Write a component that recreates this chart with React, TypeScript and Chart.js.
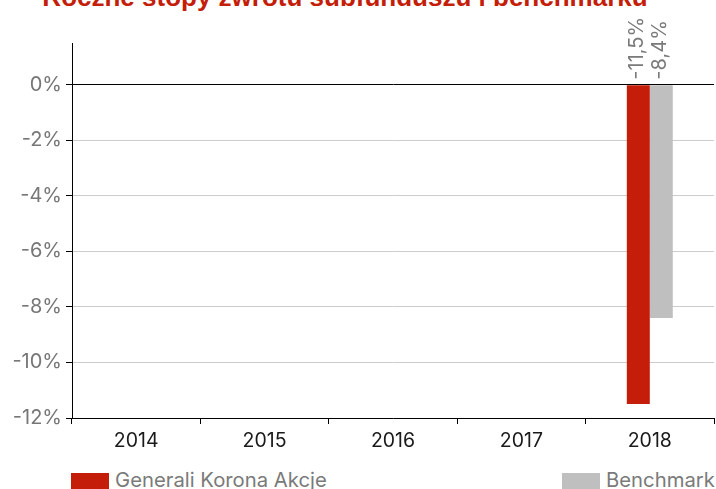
import React, { useEffect, useRef } from "react";
import { Chart, registerables } from "chart.js";

Chart.register(...registerables);

const categories = ["2014", "2015", "2016", "2017", "2018"];
const fundValues: (number | null)[] = [null, null, null, null, -11.5];
const benchmarkValues: (number | null)[] = [null, null, null, null, -8.4];
const seriesNames = ["Generali Korona Akcje", "Benchmark"];
const titleText = "Roczne stopy zwrotu subfunduszu i benchmarku";

const RED = "#c41e0a";
const GRAY = "#bfbfbf";
const FONT = "Inter, 'Liberation Sans', Arial, sans-serif";

const fmt = (v: number) => v.toFixed(1).replace(".", ",") + "%";

const labelPlugin = {
  id: "barLabels",
  afterDatasetsDraw(chart: any) {
    const ctx = chart.ctx;
    const y = chart.scales.y;
    const zeroY = y.getPixelForValue(0);
    ctx.save();
    ctx.fillStyle = "#7a7a7a";
    ctx.font = `20px ${FONT}`;
    ctx.textAlign = "left";
    ctx.textBaseline = "middle";
    chart.data.datasets.forEach((ds: any, di: number) => {
      const meta = chart.getDatasetMeta(di);
      meta.data.forEach((el: any, i: number) => {
        const v = ds.data[i];
        if (v === null || v === undefined) return;
        ctx.save();
        ctx.translate(el.x - 1, zeroY - 5);
        ctx.rotate(-Math.PI / 2);
        ctx.fillText(fmt(v), 0, 0);
        ctx.restore();
      });
    });
    ctx.restore();
  },
};

export default function App() {
  const ref = useRef<HTMLCanvasElement | null>(null);
  useEffect(() => {
    if (!ref.current) return;
    const chart = new Chart(ref.current, {
      type: "bar",
      data: {
        labels: categories,
        datasets: [
          {
            label: seriesNames[0],
            data: fundValues,
            backgroundColor: RED,
            categoryPercentage: 0.358,
            barPercentage: 1,
          },
          {
            label: seriesNames[1],
            data: benchmarkValues,
            backgroundColor: GRAY,
            categoryPercentage: 0.358,
            barPercentage: 1,
          },
        ],
      },
      options: {
        animation: false,
        responsive: false,
        maintainAspectRatio: false,
        layout: { padding: { top: 43, right: 2, left: 0, bottom: 0 } },
        plugins: {
          legend: { display: false },
          title: { display: false },
          tooltip: { enabled: false },
        },
        scales: {
          x: {
            afterFit: (s: any) => {
              s.height = 42;
            },
            grid: {
              drawOnChartArea: false,
              offset: true,
              tickLength: 6,
              tickColor: "#000",
            },
            border: { color: "#000", width: 1 },
            ticks: {
              color: "#1a1a1a",
              font: { family: FONT, size: 19.5 },
              padding: 5,
            },
          },
          y: {
            min: -12,
            max: 1.5,
            afterFit: (s: any) => {
              s.width = 72;
            },
            afterBuildTicks: (s: any) => {
              s.ticks = s.ticks.filter((t: any) => t.value <= 0 && Math.abs(t.value % 2) < 1e-9);
            },
            ticks: {
              stepSize: 2,
              color: "#777",
              font: { family: FONT, size: 20 },
              padding: 4,
              callback: (v: any) => `${v}%`,
            },
            grid: {
              color: (c: any) => (c.tick && c.tick.value === 0 ? "#000" : "#cccccc"),
              tickColor: "#000",
              tickLength: 6,
              lineWidth: 1,
            },
            border: { color: "#000", width: 1 },
          },
        },
      },
      plugins: [labelPlugin],
    });
    return () => chart.destroy();
  }, []);

  const legendText: React.CSSProperties = {
    position: "absolute",
    top: 469,
    fontFamily: FONT,
    fontSize: 20.3,
    lineHeight: "22px",
    color: "#7a7a7a",
    whiteSpace: "nowrap",
  };
  const box: React.CSSProperties = { position: "absolute", top: 473, width: 38, height: 18 };

  return (
    <div
      style={{
        position: "absolute",
        left: 0,
        top: 0,
        width: 716,
        height: 489,
        overflow: "hidden",
        background: "#fff",
      }}
    >
      <div
        style={{
          position: "absolute",
          top: -16,
          left: 0,
          width: 690,
          textAlign: "center",
          fontFamily: "'Liberation Sans', Arial, sans-serif",
          fontWeight: "bold",
          fontSize: 26,
          lineHeight: "26px",
          color: RED,
          whiteSpace: "nowrap",
        }}
      >
        {titleText}
      </div>
      <canvas
        ref={ref}
        width={716}
        height={460}
        style={{ position: "absolute", left: 0, top: 0, width: 716, height: 460 }}
      />
      <div style={{ ...box, left: 71, background: RED }} />
      <div style={{ ...legendText, left: 115 }}>{seriesNames[0]}</div>
      <div style={{ ...box, left: 562, background: GRAY }} />
      <div style={{ ...legendText, left: 606 }}>{seriesNames[1]}</div>
    </div>
  );
}
